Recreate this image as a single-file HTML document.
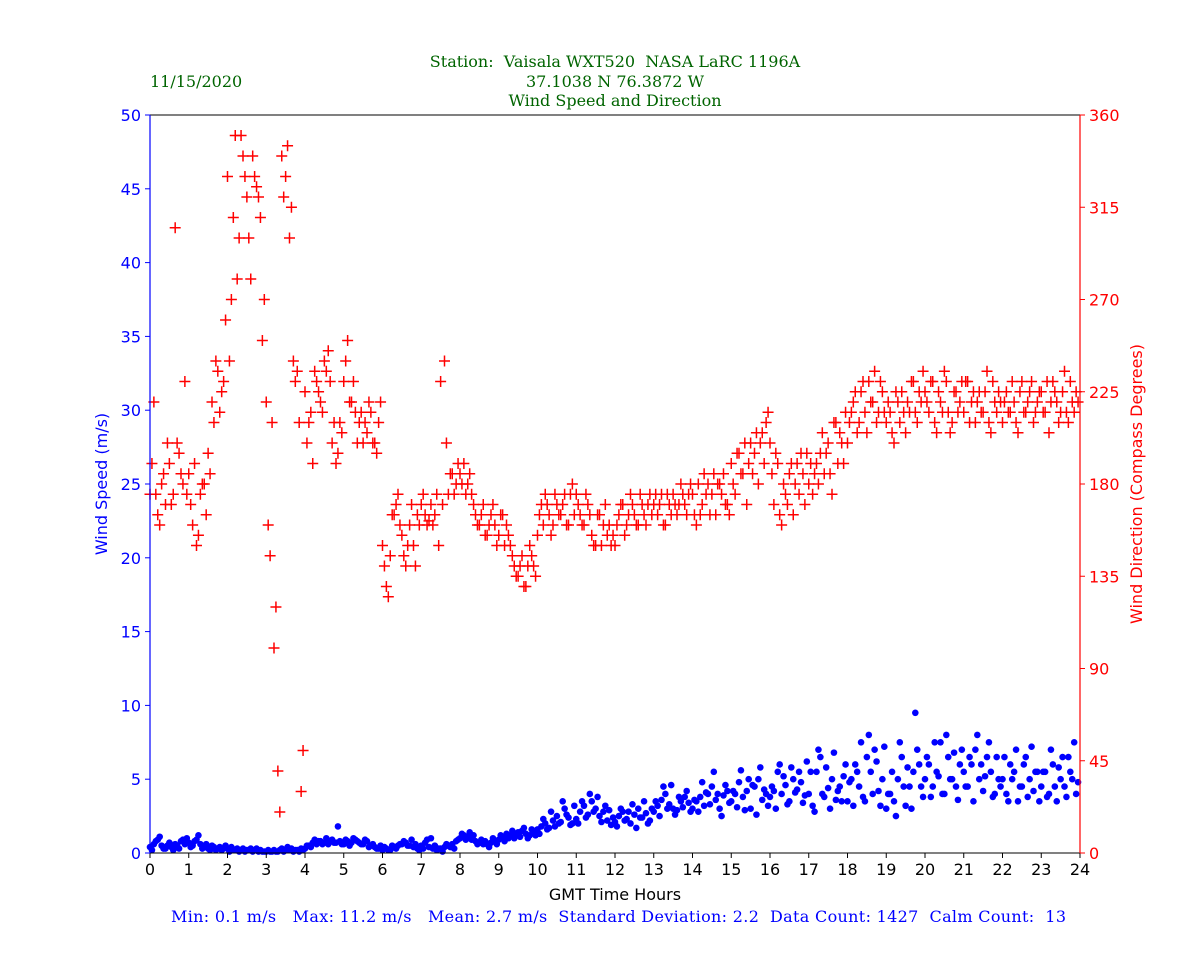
<!DOCTYPE html>
<html><head><meta charset="utf-8"><style>
html,body{margin:0;padding:0;background:#fff;}
svg{display:block;}
</style></head><body>
<svg id="chart" width="1200" height="960" xmlns="http://www.w3.org/2000/svg" font-family="'DejaVu Sans', 'Liberation Sans', sans-serif">
<text x="615" y="67" text-anchor="middle" font-family="'DejaVu Serif','Liberation Serif',serif" font-size="16" fill="#006400" xml:space="preserve">Station:  Vaisala WXT520  NASA LaRC 1196A</text>
<text x="615" y="87" text-anchor="middle" font-family="'DejaVu Serif','Liberation Serif',serif" font-size="16" fill="#006400">37.1038 N 76.3872 W</text>
<text x="615" y="106" text-anchor="middle" font-family="'DejaVu Serif','Liberation Serif',serif" font-size="16" fill="#006400">Wind Speed and Direction</text>
<text x="150" y="87" font-family="'DejaVu Serif','Liberation Serif',serif" font-size="16" fill="#006400">11/15/2020</text>
<g id="marks"></g>
<g id="axes"></g>
<text x="615" y="900" text-anchor="middle" font-size="16" fill="#000">GMT Time Hours</text>
<text transform="translate(107,484) rotate(-90)" text-anchor="middle" font-size="16" fill="#0000ff">Wind Speed (m/s)</text>
<text transform="translate(1142,484) rotate(-90)" text-anchor="middle" font-size="16" fill="#ff0000">Wind Direction (Compass Degrees)</text>
<text x="171" y="922" textLength="895" lengthAdjust="spacing" font-family="'DejaVu Serif','Liberation Serif',serif" font-size="16" fill="#0000ff" xml:space="preserve">Min: 0.1 m/s   Max: 11.2 m/s   Mean: 2.7 m/s  Standard Deviation: 2.2  Data Count: 1427  Calm Count:  13</text>
</svg>
<script>
const hours=[0,.1,.2,.3,.4,.5,.6,.7,.8,.9,1,1.1,1.2,1.3,1.4,1.5,1.6,1.7,1.8,1.9,2,2.1,2.2,2.3,2.4,2.5,2.6,2.7,2.8,2.9,3,3.1,3.2,3.3,3.4,3.5,3.6,3.7,3.8,3.9,4,4.1,4.2,4.3,4.4,4.5,4.6,4.7,4.8,4.9,5,5.1,5.2,5.3,5.4,5.5,5.6,5.7,5.8,5.9,6,6.1,6.2,6.3,6.4,6.5,6.6,6.7,6.8,6.9,7,7.1,7.2,7.3,7.4,7.5,7.6,7.7,7.8,7.9,8,8.1,8.2,8.3,8.4,8.5,8.6,8.7,8.8,8.9,9,9.1,9.2,9.3,9.4,9.5,9.6,9.7,9.8,9.9,10,10.1,10.2,10.3,10.4,10.5,10.6,10.7,10.8,10.9,11,11.1,11.2,11.3,11.4,11.5,11.6,11.7,11.8,11.9,12,12.1,12.2,12.3,12.4,12.5,12.6,12.7,12.8,12.9,13,13.1,13.2,13.3,13.4,13.5,13.6,13.7,13.8,13.9,14,14.1,14.2,14.3,14.4,14.5,14.6,14.7,14.8,14.9,15,15.1,15.2,15.3,15.4,15.5,15.6,15.7,15.8,15.9,16,16.1,16.2,16.3,16.4,16.5,16.6,16.7,16.8,16.9,17,17.1,17.2,17.3,17.4,17.5,17.6,17.7,17.8,17.9,18,18.1,18.2,18.3,18.4,18.5,18.6,18.7,18.8,18.9,19,19.1,19.2,19.3,19.4,19.5,19.6,19.7,19.8,19.9,20,20.1,20.2,20.3,20.4,20.5,20.6,20.7,20.8,20.9,21,21.1,21.2,21.3,21.4,21.5,21.6,21.7,21.8,21.9,22,22.1,22.2,22.3,22.4,22.5,22.6,22.7,22.8,22.9,23,23.1,23.2,23.3,23.4,23.5,23.6,23.7,23.8,23.9];
const directionA=[175,220,165,180,170,190,175,200,185,230,185,160,150,175,180,195,220,240,215,230,330,270,350,300,340,320,280,330,320,250,220,145,100,40,340,330,300,240,235,30,225,210,190,230,220,240,245,200,190,210,230,250,220,215,210,200,205,215,200,210,150,130,145,165,175,155,140,160,150,165,170,165,162,160,175,230,240,175,185,180,185,190,180,175,165,160,170,155,165,160,155,165,160,150,140,135,145,130,150,140,155,170,175,165,160,170,165,175,160,180,175,165,160,170,155,150,165,160,155,150,150,165,170,160,175,165,160,170,160,175,170,165,175,160,170,175,165,180,170,175,175,160,165,185,180,175,165,180,185,170,190,175,195,185,170,200,195,180,205,210,200,170,190,160,175,185,165,190,195,170,180,175,190,195,185,200,175,210,205,190,200,215,225,210,230,205,220,235,215,225,210,215,200,220,225,205,215,230,210,220,225,215,230,205,220,235,215,210,225,220,215,230,220,210,225,215,235,205,220,225,210,225,215,220,205,230,215,225,210,220,225,215,205,230,220,215,235,210,220,225];
const directionB=[190,175,160,185,200,170,305,195,180,175,170,190,155,180,165,185,210,235,225,260,240,310,280,350,330,300,340,325,310,270,160,210,120,20,320,345,315,230,210,50,200,215,235,225,215,235,230,210,195,205,240,220,230,200,215,210,220,200,195,220,140,125,165,170,160,145,150,170,140,160,175,160,170,165,150,170,200,185,175,190,180,175,185,170,160,165,155,160,170,150,165,150,155,145,135,140,130,140,145,135,165,160,170,155,175,165,170,160,175,165,170,160,175,165,150,165,150,170,160,155,160,170,155,165,170,160,175,165,170,165,175,170,160,175,165,170,170,175,165,180,165,180,170,175,165,185,180,175,170,165,180,195,185,200,190,185,205,200,190,215,185,195,165,180,170,190,180,175,185,195,190,185,180,205,195,185,210,190,200,215,210,220,205,225,215,230,220,210,230,215,220,205,225,210,215,220,230,215,225,235,220,230,210,225,215,230,205,225,215,230,230,210,225,220,215,225,210,230,215,220,220,215,230,210,225,215,220,230,215,225,215,230,220,225,210,225,215,230,215,220];
const speedA=[0.4,0.6,0.9,0.5,0.3,0.7,0.2,0.5,0.8,0.6,0.7,0.5,0.9,0.6,0.4,0.3,0.5,0.2,0.4,0.3,0.3,0.4,0.2,0.1,0.3,0.2,0.3,0.2,0.1,0.1,0.1,0.1,0.2,0.1,0.3,0.2,0.2,0.1,0.2,0.3,0.3,0.5,0.7,0.6,0.8,0.7,0.6,0.9,0.7,0.8,0.6,0.8,0.7,0.9,0.7,0.6,0.8,0.5,0.4,0.3,0.2,0.3,0.2,0.4,0.5,0.6,0.7,0.5,0.4,0.3,0.5,0.7,0.4,0.3,0.2,0.3,0.4,0.5,0.6,0.8,1.0,1.2,1.1,0.9,0.8,0.7,0.6,0.6,0.7,0.8,0.9,1.1,1.3,1.2,1.0,1.4,1.5,1.3,1.2,1.4,1.6,1.8,2.0,1.7,2.2,2.5,2.1,3.0,2.4,2.0,2.3,2.8,3.2,2.6,3.5,3.0,2.5,2.8,2.2,1.9,2.1,2.5,2.8,2.3,2.0,2.6,3.0,2.4,2.7,2.2,2.8,3.2,3.6,4.0,3.3,3.0,2.9,3.5,3.8,3.4,3.0,3.5,3.8,3.2,4.0,4.5,3.6,3.0,3.9,4.2,3.5,4.0,4.8,3.8,4.2,3.0,4.5,5.0,3.6,4.0,3.8,4.2,5.5,4.0,4.6,3.5,5.0,4.3,4.8,3.9,4.0,3.2,5.5,6.5,3.8,4.4,5.0,3.6,4.5,5.2,3.5,5.0,6.0,4.5,3.8,6.5,5.5,7.0,4.2,5.0,3.0,4.0,3.5,5.0,6.5,3.2,4.5,5.5,7.0,4.5,5.0,6.0,4.5,5.5,7.5,4.0,6.5,5.0,4.5,6.0,5.5,4.5,6.0,7.0,5.0,4.2,6.5,5.5,4.0,5.0,5.0,4.0,6.0,5.5,3.5,4.5,6.5,5.0,4.2,5.5,4.5,5.5,4.0,6.0,3.5,5.0,4.5,6.5,5.0,4.0];
const speedB=[0.2,0.8,1.1,0.3,0.5,0.4,0.6,0.3,0.9,1.0,0.4,0.8,1.2,0.3,0.6,0.2,0.4,0.3,0.2,0.5,0.1,0.2,0.3,0.2,0.1,0.2,0.1,0.3,0.2,0.1,0.2,0.1,0.1,0.2,0.1,0.4,0.3,0.2,0.1,0.2,0.5,0.4,0.9,0.8,0.6,1.0,0.8,0.7,1.8,0.6,0.9,0.5,1.0,0.8,0.6,0.9,0.4,0.6,0.3,0.5,0.4,0.2,0.5,0.3,0.6,0.8,0.5,0.9,0.6,0.2,0.3,0.9,1.0,0.5,0.3,0.1,0.6,0.4,0.3,0.9,1.3,0.9,1.4,1.2,0.6,0.9,0.8,0.4,1.0,0.6,1.2,0.8,1.0,1.5,1.3,1.1,1.7,1.0,1.6,1.2,1.3,2.3,1.6,2.8,1.8,2.0,3.5,2.6,1.9,3.2,2.0,3.5,2.4,4.0,2.8,3.8,2.1,3.2,2.9,2.4,1.8,3.0,2.2,2.8,3.3,1.7,2.4,3.5,2.0,3.0,3.5,2.5,4.5,3.0,4.6,2.6,3.8,3.1,4.2,2.8,3.6,2.8,4.8,4.1,3.3,5.5,4.0,2.5,4.6,3.4,4.2,3.1,5.6,2.9,5.0,4.6,2.6,5.8,4.3,3.2,4.5,3.0,6.0,5.2,3.3,5.8,4.1,5.5,3.4,6.2,5.5,2.8,7.0,4.0,5.8,3.0,6.8,4.2,3.5,6.0,4.8,3.2,5.5,7.5,3.5,8.0,4.0,6.2,3.2,7.2,4.0,5.5,2.5,7.5,4.5,5.8,3.0,9.5,6.0,3.8,6.5,3.8,7.5,5.2,4.0,8.0,5.0,6.8,3.6,7.0,4.5,6.5,3.5,8.0,6.0,5.2,7.5,3.8,6.5,4.5,6.5,3.5,5.0,7.0,4.5,6.0,3.8,7.2,5.5,3.5,5.5,3.8,7.0,4.5,5.8,6.5,3.8,5.5,7.5,4.8];
const xTicks=[0,1,2,3,4,5,6,7,8,9,10,11,12,13,14,15,16,17,18,19,20,21,22,23,24];
const leftTicks=[0,5,10,15,20,25,30,35,40,45,50];
const rightTicks=[0,45,90,135,180,225,270,315,360];

const NS='http://www.w3.org/2000/svg';
const PL=150,PR=1080,PT=115,PB=853;
const xs=h=>PL+(h/24)*(PR-PL);
const ysL=v=>PB-(v/50)*(PB-PT);
const ysR=v=>PB-(v/360)*(PB-PT);
function mk(tag,attrs,parent){const e=document.createElementNS(NS,tag);for(const k in attrs)e.setAttribute(k,attrs[k]);parent.appendChild(e);return e;}
const marksG=document.getElementById('marks');
const axesG=document.getElementById('axes');

function plus(h,d){
  const x=xs(h),y=ysR(d);
  const p=mk('path',{d:`M${x-5.5},${y}H${x+5.5}M${x},${y-5.5}V${y+5.5}`,stroke:'#ff0000','stroke-width':1.5,fill:'none'},marksG);
  
  
}
function dot(h,v){
  const c=mk('circle',{cx:xs(h),cy:ysL(v),r:3.3,fill:'#0000ff'},marksG);
  
  
}
hours.forEach((h,i)=>{plus(h,directionA[i]);plus(h+0.05,directionB[i]);});
hours.forEach((h,i)=>{dot(h,speedA[i]);dot(h+0.05,speedB[i]);});

const frameTop=mk('line',{x1:PL,y1:PT,x2:PR,y2:PT,stroke:'#000','stroke-width':1},axesG);


const frameBot=mk('line',{x1:PL,y1:PB,x2:PR,y2:PB,stroke:'#000','stroke-width':1},axesG);


const leftAxis=mk('line',{x1:PL,y1:PT,x2:PL,y2:PB,stroke:'#0000ff','stroke-width':1.2},axesG);


const rightAxis=mk('line',{x1:PR,y1:PT,x2:PR,y2:PB,stroke:'#ff0000','stroke-width':1.2},axesG);



xTicks.forEach(t=>{
  const x=xs(t);
  mk('line',{x1:x,y1:PB,x2:x,y2:PB+5,stroke:'#000'},axesG);
  const tx=mk('text',{x:x,y:PB+22,'text-anchor':'middle','font-size':16,fill:'#000'},axesG);
  tx.textContent=t;
  
  
});
leftTicks.forEach(t=>{
  const y=ysL(t);
  mk('line',{x1:PL-5,y1:y,x2:PL,y2:y,stroke:'#0000ff'},axesG);
  const tx=mk('text',{x:PL-9,y:y+6,'text-anchor':'end','font-size':16,fill:'#0000ff'},axesG);
  tx.textContent=t;
  
  
});
rightTicks.forEach(t=>{
  const y=ysR(t);
  mk('line',{x1:PR,y1:y,x2:PR+5,y2:y,stroke:'#ff0000'},axesG);
  const tx=mk('text',{x:PR+9,y:y+6,'text-anchor':'start','font-size':16,fill:'#ff0000'},axesG);
  tx.textContent=t;
  
  
});
</script>
</body></html>
